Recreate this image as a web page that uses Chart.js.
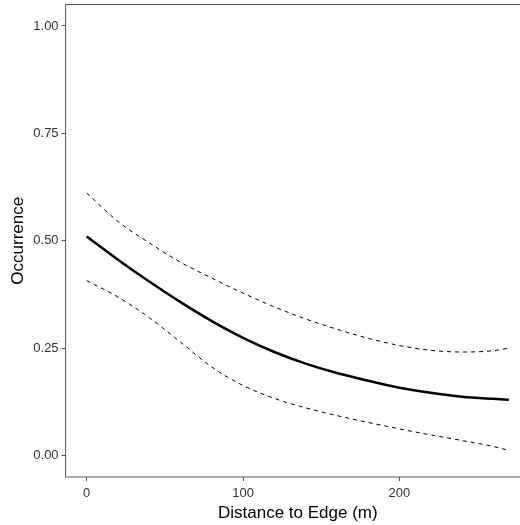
<!DOCTYPE html>
<html>
<head>
<meta charset="utf-8">
<script src="https://cdn.jsdelivr.net/npm/chart.js@4/dist/chart.umd.min.js"></script>
<style>
  html, body { margin: 0; padding: 0; background: #fff; overflow: hidden; }
  #wrap { width: 531px; height: 525px; }
</style>
</head>
<body>
<div id="wrap"><canvas id="occChart" width="531" height="525"></canvas></div>
<script>
// Distance to edge (m)
const distance = [0, 20, 40, 60, 80, 100, 120, 140, 160, 180, 200, 220, 240, 260, 270];
// Fitted occurrence and confidence band
const fitted = [0.510, 0.456, 0.405, 0.357, 0.313, 0.274, 0.241, 0.214, 0.192, 0.174, 0.158, 0.146, 0.137, 0.132, 0.130];
const upperCI = [0.611, 0.545, 0.495, 0.450, 0.413, 0.378, 0.346, 0.318, 0.294, 0.273, 0.256, 0.245, 0.241, 0.244, 0.250];
const lowerCI = [0.407, 0.369, 0.321, 0.264, 0.206, 0.163, 0.133, 0.111, 0.093, 0.077, 0.062, 0.048, 0.035, 0.021, 0.012];

const xTicks = [0, 100, 200];
const yTicks = [0, 0.25, 0.5, 0.75, 1];

const toPoints = vals => vals.map((v, i) => ({ x: distance[i], y: v }));

// panel border like ggplot theme_bw
const panelBorder = {
  id: 'panelBorder',
  afterDraw(chart) {
    const { ctx, chartArea: a } = chart;
    ctx.save();
    ctx.strokeStyle = '#555';
    ctx.lineWidth = 1;
    ctx.strokeRect(a.left, a.top, a.right - a.left, a.bottom - a.top);
    ctx.restore();
  }
};

const ctx = document.getElementById('occChart').getContext('2d');
new Chart(ctx, {
  type: 'line',
  data: {
    datasets: [
      {
        data: toPoints(upperCI),
        borderColor: '#000',
        borderWidth: 1,
        borderDash: [4, 4],
        pointRadius: 0,
        cubicInterpolationMode: 'monotone'
      },
      {
        data: toPoints(fitted),
        borderColor: '#000',
        borderWidth: 2.5,
        pointRadius: 0,
        cubicInterpolationMode: 'monotone'
      },
      {
        data: toPoints(lowerCI),
        borderColor: '#000',
        borderWidth: 1,
        borderDash: [4, 4],
        pointRadius: 0,
        cubicInterpolationMode: 'monotone'
      }
    ]
  },
  options: {
    responsive: false,
    animation: false,
    layout: { padding: { top: 4.5, right: 1, left: 0, bottom: 0 } },
    plugins: {
      legend: { display: false },
      tooltip: { enabled: false }
    },
    scales: {
      x: {
        type: 'linear',
        min: -13.5,
        max: 283.5,
        afterBuildTicks: scale => { scale.ticks = xTicks.map(v => ({ value: v })); },
        afterFit: scale => {
          scale.height = 48;
          scale.paddingLeft = 0;
          scale.paddingRight = 0;
        },
        border: { display: false },
        grid: {
          drawOnChartArea: false,
          drawTicks: true,
          tickLength: 4,
          color: '#555'
        },
        ticks: {
          color: '#333',
          font: { family: 'Liberation Sans', size: 13 },
          padding: 5,
          maxRotation: 0
        },
        title: {
          display: true,
          text: 'Distance to Edge (m)',
          color: '#000',
          font: { family: 'Liberation Sans', size: 17 },
          padding: { top: 0, bottom: 1 }
        }
      },
      y: {
        type: 'linear',
        min: -0.05,
        max: 1.05,
        afterBuildTicks: scale => { scale.ticks = yTicks.map(v => ({ value: v })); },
        afterFit: scale => {
          scale.width = 65.6;
          scale.paddingTop = 0;
          scale.paddingBottom = 0;
        },
        border: { display: false },
        grid: {
          drawOnChartArea: false,
          drawTicks: true,
          tickLength: 4,
          color: '#555'
        },
        ticks: {
          color: '#333',
          font: { family: 'Liberation Sans', size: 13 },
          padding: 3,
          callback: v => v.toFixed(2)
        },
        title: {
          display: true,
          text: 'Occurrence',
          color: '#000',
          font: { family: 'Liberation Sans', size: 17 },
          padding: { top: 8, bottom: 2 }
        }
      }
    }
  },
  plugins: [panelBorder]
});
</script>
</body>
</html>
